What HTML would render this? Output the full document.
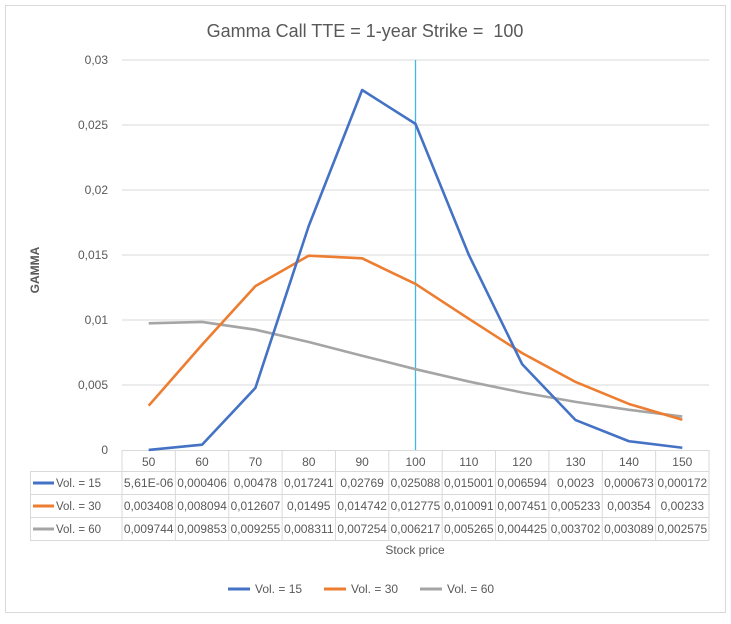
<!DOCTYPE html>
<html><head><meta charset="utf-8"><style>
body{margin:0;background:#fff;font-family:"Liberation Sans",sans-serif;}
svg text{font-family:"Liberation Sans",sans-serif;}
</style></head><body>
<svg id="c" width="731" height="619" xmlns="http://www.w3.org/2000/svg">
<rect x="5.5" y="5.5" width="720" height="607" fill="#fff" stroke="#d9d9d9"/>
<text x="365" y="37" font-size="18" fill="#595959" text-anchor="middle">Gamma Call TTE = 1-year Strike =&#160; 100</text>
<text transform="translate(39,270) rotate(-90)" font-size="12" font-weight="bold" fill="#595959" text-anchor="middle">GAMMA</text>
<text x="415" y="554" font-size="12" fill="#595959" text-anchor="middle">Stock price</text>
<g id="grid"></g><g id="tbl"></g><g id="lines"></g><g id="legend"></g>
</svg>
<script>
const categories=[50,60,70,80,90,100,110,120,130,140,150];
const vol15=[0.00000561,0.000406,0.00478,0.017241,0.02769,0.025088,0.015001,0.006594,0.0023,0.000673,0.000172];
const vol30=[0.003408,0.008094,0.012607,0.01495,0.014742,0.012775,0.010091,0.007451,0.005233,0.00354,0.00233];
const vol60=[0.009744,0.009853,0.009255,0.008311,0.007254,0.006217,0.005265,0.004425,0.003702,0.003089,0.002575];
const label15=["5,61E-06","0,000406","0,00478","0,017241","0,02769","0,025088","0,015001","0,006594","0,0023","0,000673","0,000172"];
const label30=["0,003408","0,008094","0,012607","0,01495","0,014742","0,012775","0,010091","0,007451","0,005233","0,00354","0,00233"];
const label60=["0,009744","0,009853","0,009255","0,008311","0,007254","0,006217","0,005265","0,004425","0,003702","0,003089","0,002575"];
const yTicks=[0,0.005,0.01,0.015,0.02,0.025,0.03];
const yTickLabels=["0","0,005","0,01","0,015","0,02","0,025","0,03"];
const strike=100;
const NS="http://www.w3.org/2000/svg";
const X0=122,X1=709,Y0=450,Y1=60,YMAX=0.03;
const bw=(X1-X0)/categories.length;
const xs=i=>X0+bw*(i+0.5);
const ys=v=>Y0-(v/YMAX)*(Y0-Y1);
function mk(tag,attrs,parent,txt){const e=document.createElementNS(NS,tag);for(const k in attrs)e.setAttribute(k,attrs[k]);if(txt!==undefined)e.textContent=txt;parent.appendChild(e);return e;}
const grid=document.getElementById('grid');
yTicks.forEach((t,i)=>{
  if(t>0){const l=mk('line',{x1:X0,x2:X1,y1:ys(t),y2:ys(t),stroke:'#d9d9d9'},grid);
  
  }
  const tx=mk('text',{x:108,y:ys(t)+4,'font-size':12,fill:'#595959','text-anchor':'end'},grid,yTickLabels[i]);
  
  
});
const tbl=document.getElementById('tbl');
const rowsY=[450,471,494,517,540];
const tl=30;
[[X0,X1,450],[tl,X1,471],[tl,X1,494],[tl,X1,517],[tl,X1,540]].forEach(r=>{const l=mk('line',{x1:r[0],x2:r[1],y1:r[2]+0.5,y2:r[2]+0.5,stroke:'#d9d9d9'},tbl);

});
for(let i=0;i<=categories.length;i++){const x=X0+bw*i;const l=mk('line',{x1:x,x2:x,y1:450,y2:540,stroke:'#d9d9d9'},tbl);

}
const lv=mk('line',{x1:tl+0.5,x2:tl+0.5,y1:471,y2:540,stroke:'#d9d9d9'},tbl);


categories.forEach((c,i)=>{const t=mk('text',{x:xs(i),y:466,'font-size':12,fill:'#595959','text-anchor':'middle'},tbl,c);

});
const series=[{n:'Vol. = 15',v:vol15,lab:label15,c:'#4472c4'},{n:'Vol. = 30',v:vol30,lab:label30,c:'#ed7d31'},{n:'Vol. = 60',v:vol60,lab:label60,c:'#a5a5a5'}];
series.forEach((s,r)=>{
  const yc=rowsY[r+1]+16;
  const k=mk('line',{x1:33,x2:54,y1:yc-4,y2:yc-4,stroke:s.c,'stroke-width':3},tbl);
  
  
  const n=mk('text',{x:56,y:yc,'font-size':11.5,fill:'#595959'},tbl,s.n);
  
  
  s.lab.forEach((t,i)=>{const e=mk('text',{x:xs(i),y:yc,'font-size':11.5,fill:'#595959','text-anchor':'middle',textLength:Math.min(bw-2,t.length*6.2),lengthAdjust:'spacingAndGlyphs'},tbl,t);
  
  });
});
const si=categories.indexOf(strike);
const sl=mk('line',{x1:xs(si),x2:xs(si),y1:Y1,y2:Y0,stroke:'#3fb8ec','stroke-width':1.3},document.getElementById('lines'));


[2,1,0].forEach(r=>{const s=series[r];
  const p=mk('polyline',{points:s.v.map((v,i)=>xs(i)+','+ys(v)).join(' '),fill:'none',stroke:s.c,'stroke-width':2.6,'stroke-linejoin':'round'},document.getElementById('lines'));
  
  
});
const lg=document.getElementById('legend');
const lx=[228,324,420];
series.forEach((s,r)=>{
  const l=mk('line',{x1:lx[r],x2:lx[r]+22,y1:589,y2:589,stroke:s.c,'stroke-width':3},lg);
  
  
  const t=mk('text',{x:lx[r]+27,y:593,'font-size':12,fill:'#595959'},lg,s.n);
  
  
});
</script>
</body></html>
